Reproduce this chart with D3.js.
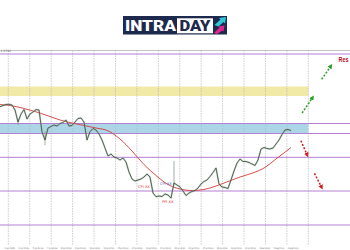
<!DOCTYPE html>
<html><head><meta charset="utf-8">
<script src="https://cdn.jsdelivr.net/npm/d3@7/dist/d3.min.js"></script>
<style>html,body{margin:0;padding:0;background:#fff;overflow:hidden}svg{display:block}</style>
</head><body>
<svg id="c" width="350" height="250"></svg>
<script>
// ---------- DATA ----------
const symbolLabel = "1.2783";
const closes = [
  1.25165,1.25225,1.25275,1.25285,1.2525,1.25,1.244,1.248,1.25025,1.2455,
  1.248,1.249,1.25025,1.25,1.239,1.235,1.241,1.24175,1.2425,1.242,
  1.24325,1.24375,1.245,1.242,1.24225,1.244,1.24575,1.246,1.244,1.235,
  1.23915,1.24075,1.24,1.238,1.235,1.231,1.227,1.228,1.2265,1.226,
  1.225,1.226,1.224,1.219,1.2155,1.2145,1.215,1.2155,1.2165,1.218,
  1.2165,1.2085,1.20665,1.207,1.20675,1.208,1.2075,1.206,1.2135,1.2125,
  1.2115,1.2095,1.20725,1.2085,1.20925,1.20975,1.211,1.213,1.21425,1.215,
  1.21675,1.21875,1.221,1.213,1.2115,1.21125,1.21075,1.215,1.2195,1.2235,
  1.2255,1.22425,1.22425,1.22375,1.223,1.22225,1.225,1.2305,1.23125,1.23075,
  1.2305,1.231,1.233,1.235,1.23775,1.24,1.24025,1.23975
];
const wickBars  = [6, 15, 58];
const wickHighs = [1.2455, 1.2395, 1.2245];
const wickLows  = [1.2425, 1.2325, 1.2125];

const maBars = [0,4,8,12,16,20,24,28,32,36,40,44,48,52,56,60,64,68,72,76,80,84,88,92,96,97];
const maValues = [
  1.25275,1.2521,1.25075,1.2491,1.2471,1.245,1.2435,1.24225,1.241,1.2396,
  1.2355,1.2295,1.22275,1.21725,1.21275,1.2105,1.20975,1.21025,1.212,1.21425,
  1.2165,1.2184,1.221,1.2255,1.2301,1.23125
];

const levels = [1.278, 1.24325, 1.23825, 1.22635, 1.2095, 1.1925];
const zoneNames = ["supply", "demand"];
const zoneLows  = [1.257, 1.23825];
const zoneHighs = [1.26175, 1.24325];

const eventTexts  = ["CPI XX", "CPI XX", "PPI XX"];
const eventBars   = [46, 53.3, 54];
const eventPrices = [1.21175, 1.21325, 1.204];

const arrowKinds      = ["up", "up", "down", "down"];
const arrowFromBars   = [100.7, 107.2, 100.3, 104.8];
const arrowFromPrices = [1.2485, 1.26535, 1.23465, 1.21835];
const arrowToBars     = [104.2, 110.3, 102.4, 107.2];
const arrowToPrices   = [1.25625, 1.272, 1.2275, 1.21135];

const resistanceText = "Res";
const tickLabels = ["1 Jul 2020","2 Jul 12:00","5 Jul 20:00","7 Jul 04:00","8 Jul 12:00","9 Jul 20:00",
  "13 Jul 04:00","14 Jul 12:00","15 Jul 20:00","17 Jul 04:00","20 Jul 12:00","21 Jul 20:00",
  "23 Jul 04:00","24 Jul 12:00","27 Jul 20:00","29 Jul 04:00","30 Jul 12:00","31 Jul 20:00",
  "4 Aug 04:00","5 Aug 12:00","6 Aug 20:00"];

// ---------- DRAW ----------
const svg = d3.select("#c");
const W = 350;
const x = d3.scaleLinear().domain([0, 97]).range([0, 291]);
const y = d3.scaleLinear().domain([1.183, 1.27975]).range([244, 50.5]);
const gridBars = d3.range(2.77, 103, 7.143);
const bandEnd = x(102.77);

// logo
const logo = svg.append("g");
logo.append("rect").attr("x",123).attr("y",16).attr("width",104).attr("height",18.5).attr("fill","#1d2a4d");
logo.append("rect").attr("x",177).attr("y",18.3).attr("width",36).attr("height",15).attr("fill","#fff");
logo.append("text").attr("x",125).attr("y",30.8).attr("font-family","Roboto, 'Open Sans', sans-serif")
  .attr("font-weight",900).attr("font-size",14).attr("fill","#fff")
  .attr("textLength",51).attr("lengthAdjust","spacingAndGlyphs").text("INTRA");
logo.append("text").attr("x",179.5).attr("y",30.8).attr("font-family","Roboto, 'Open Sans', sans-serif")
  .attr("font-weight",900).attr("font-size",14).attr("fill","#1d2a4d")
  .attr("textLength",31).attr("lengthAdjust","spacingAndGlyphs").text("DAY");
logo.append("path").attr("d","M214.5,25 L220.5,19.5 L219,18 L226,17 L225,23.5 L223.5,22 L218.5,26.5 Z").attr("fill","#2fc6d8");
logo.append("path").attr("d","M214,33 L219.5,27.5 L218.5,26.5 L224.5,25.5 L223.5,31.5 L222.5,30.5 L217,34 Z").attr("fill","#e2248f");

// zones
svg.append("g").selectAll("rect").data(zoneNames).join("rect")
  .attr("x", 0).attr("width", bandEnd)
  .attr("y", (d,i)=>y(zoneHighs[i]))
  .attr("height", (d,i)=>y(zoneLows[i]) - y(zoneHighs[i]))
  .attr("fill", d => d === "supply" ? "#f1e9a6" : "#acd6e8");

// top frame
svg.append("line").attr("x1",0).attr("x2",W).attr("y1",50.5).attr("y2",50.5).attr("stroke","#b5b5b5").attr("stroke-width",0.8);

// vertical grid
svg.append("g").selectAll("line").data(gridBars).join("line")
  .attr("x1", d=>x(d)).attr("x2", d=>x(d)).attr("y1", 50.5).attr("y2", 245)
  .attr("stroke", "#b9b9b9").attr("stroke-width", 0.7).attr("stroke-dasharray","1.5,1");

// levels
svg.append("g").selectAll("line").data(levels).join("line")
  .attr("x1", 0).attr("x2", W).attr("y1", d=>y(d)).attr("y2", d=>y(d))
  .attr("stroke", "#b47fd6").attr("stroke-width", 1);

// symbol label
svg.append("text").attr("x",0.5).attr("y",52.3).attr("font-size",3).attr("fill","#666")
  .attr("font-family","DejaVu Sans, sans-serif").text(symbolLabel);

// moving average
svg.append("path").datum(maValues)
  .attr("d", d3.line().x((d,i)=>x(maBars[i])).y(d=>y(d)).curve(d3.curveMonotoneX))
  .attr("fill","none").attr("stroke","#d43c3c").attr("stroke-width",0.9);

// wicks
svg.append("g").selectAll("line").data(wickBars).join("line")
  .attr("x1", d=>x(d)).attr("x2", d=>x(d))
  .attr("y1", (d,i)=>y(wickHighs[i])).attr("y2", (d,i)=>y(wickLows[i]))
  .attr("stroke","#8a9a8a").attr("stroke-width",0.8);

// price
const priceLine = d3.line().x((d,i)=>x(i)).y(d=>y(d));
svg.append("path").datum(closes).attr("d", priceLine)
  .attr("fill","none").attr("stroke","#9ab49a").attr("stroke-width",1.9).attr("stroke-opacity",0.5)
  .attr("stroke-linejoin","round");
svg.append("path").datum(closes).attr("d", priceLine)
  .attr("fill","none").attr("stroke","#3a473c").attr("stroke-width",0.8)
  .attr("stroke-linejoin","miter");

// events
svg.append("g").selectAll("text").data(eventTexts).join("text")
  .attr("x", (d,i)=>x(eventBars[i])).attr("y", (d,i)=>y(eventPrices[i]) + 1.2)
  .attr("font-size", 3.6).attr("font-family","DejaVu Sans, sans-serif")
  .attr("fill", (d,i)=> i===1 ? "#4a5cc4" : "#e0363a").text(d=>d);

// arrows
const defs = svg.append("defs");
[["up","#26a026"],["down","#d41a1a"]].forEach(([k,c])=>{
  defs.append("marker").attr("id","m-"+k).attr("viewBox","0 0 10 10").attr("refX",5).attr("refY",5)
    .attr("markerWidth",3.2).attr("markerHeight",3.2).attr("orient","auto")
    .append("path").attr("d","M0,0 L10,5 L0,10 Z").attr("fill",c);
});
svg.append("g").selectAll("line").data(arrowKinds).join("line")
  .attr("x1",(d,i)=>x(arrowFromBars[i])).attr("y1",(d,i)=>y(arrowFromPrices[i]))
  .attr("x2",(d,i)=>x(arrowToBars[i])).attr("y2",(d,i)=>y(arrowToPrices[i]))
  .attr("stroke", d=> d==="up" ? "#26a026" : "#d41a1a")
  .attr("stroke-width",1.5).attr("stroke-dasharray","2,1.6")
  .attr("marker-end", d=>"url(#m-"+d+")");

// resistance label
svg.append("text").attr("x",338.6).attr("y",61.8).attr("font-size",7).attr("font-weight","bold")
  .attr("font-family","Liberation Sans, Arial, sans-serif").attr("fill","#b3141f")
  .attr("textLength",10).attr("lengthAdjust","spacingAndGlyphs").text(resistanceText);

// x tick labels
const xl = d3.scalePoint().domain(tickLabels).range([9.7, 293]);
svg.append("g").selectAll("text").data(tickLabels).join("text")
  .attr("x", d=>xl(d)).attr("y", 248.6).attr("text-anchor","middle")
  .attr("font-size", 2.5).attr("font-family","DejaVu Sans, sans-serif").attr("fill","#555")
  .attr("textLength", 10.5).attr("lengthAdjust","spacingAndGlyphs").text(d=>d);
</script>
</body></html>
